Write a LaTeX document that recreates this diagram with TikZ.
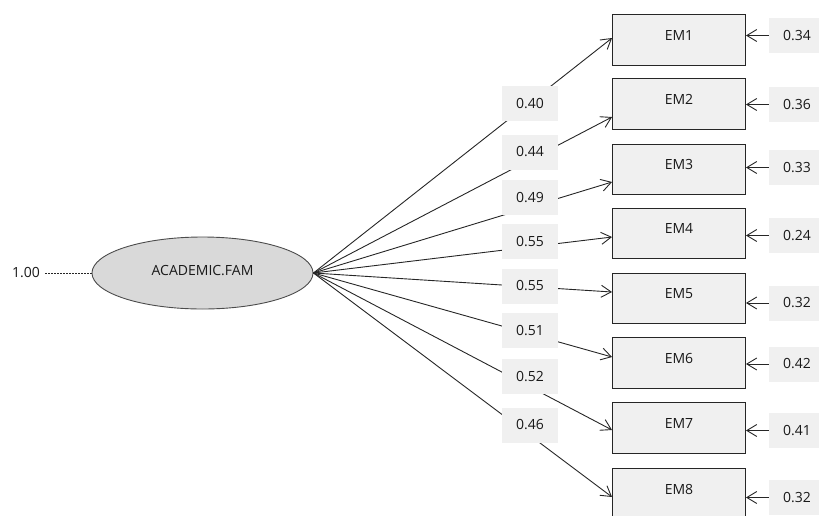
\documentclass[tikz,border=0pt]{standalone}
\usepackage{fontspec}
\setmainfont{Open Sans}
\usetikzlibrary{arrows.meta,shapes.geometric}

\tikzset{
  every node/.style={font=\fontsize{14}{16}\selectfont,text=black!90},
  item/.style={draw=black!85,fill=black!6,line width=0.9pt,minimum width=133pt,minimum height=50.5pt,inner sep=0pt,text depth=10pt},
  coef/.style={fill=black!6,minimum width=56pt,minimum height=35pt,inner sep=0pt},
  load/.style={-{Straight Barb[length=10pt,width=12pt]},draw=black!85,line width=0.9pt}
}

\begin{document}
\begin{tikzpicture}[x=1pt,y=-1pt]
 		\useasboundingbox (0,0) rectangle (819,515);

 		\node[ellipse,draw=black!70,fill=black!15,line width=0.9pt,minimum width=221pt,minimum height=72pt,inner sep=0pt,text depth=6pt] (acad) at (202.5,273) {ACADEMIC.FAM};
 		\node[inner sep=0pt] (var) at (26,273) {1.00};
 		\draw[black!85,line width=0.9pt,dash pattern=on 2pt off 1pt,shorten <=5pt] (var) -- (acad);

 		\node[item] (em1) at (679,40) {EM1};
 		\node[item] (em2) at (679,104) {EM2};
 		\node[item] (em3) at (679,169.5) {EM3};
 		\node[item] (em4) at (679,233.5) {EM4};
 		\node[item] (em5) at (679,298.5) {EM5};
 		\node[item] (em6) at (679,363) {EM6};
 		\node[item] (em7) at (679,428) {EM7};
 		\node[item] (em8) at (679,494) {EM8};

 		\draw[load] (acad.east) -- ([yshift=2pt]em1.west);
 		\draw[load] (acad.east) -- ([yshift=-13pt]em2.west);
 		\draw[load] (acad.east) -- ([yshift=-12.5pt]em3.west);
 		\draw[load] (acad.east) -- ([yshift=-3.5pt]em4.west);
 		\draw[load] (acad.east) -- ([yshift=6.5pt]em5.west);
 		\draw[load] (acad.east) -- ([yshift=6pt]em6.west);
 		\draw[load] (acad.east) -- ([yshift=-2pt]em7.west);
 		\draw[load] (acad.east) -- ([yshift=-3pt]em8.west);

 		\node[coef] (p1) at (530,103.5) {0.40};
 		\node[coef] (p2) at (530,152) {0.44};
 		\node[coef] (p3) at (530,197.5) {0.49};
 		\node[coef] (p4) at (530,241.5) {0.55};
 		\node[coef] (p5) at (530,286) {0.55};
 		\node[coef] (p6) at (530,330.5) {0.51};
 		\node[coef] (p7) at (530,376.5) {0.52};
 		\node[coef] (p8) at (530,425) {0.46};

 		\node[coef] (e1) at (797,35.5) {0.34};
 		\node[coef] (e2) at (797,104.5) {0.36};
 		\node[coef] (e3) at (797,167.5) {0.33};
 		\node[coef] (e4) at (797,235.5) {0.24};
 		\node[coef] (e5) at (797,303) {0.32};
 		\node[coef] (e6) at (797,364) {0.42};
 		\node[coef] (e7) at (797,430.5) {0.41};
 		\node[coef] (e8) at (797,497.5) {0.32};

 		\draw[load] (e1.west) -- (e1.west -| em1.east);
 		\draw[load] (e2.west) -- (e2.west -| em2.east);
 		\draw[load] (e3.west) -- (e3.west -| em3.east);
 		\draw[load] (e4.west) -- (e4.west -| em4.east);
 		\draw[load] (e5.west) -- (e5.west -| em5.east);
 		\draw[load] (e6.west) -- (e6.west -| em6.east);
 		\draw[load] (e7.west) -- (e7.west -| em7.east);
 		\draw[load] (e8.west) -- (e8.west -| em8.east);
\end{tikzpicture}
\end{document}
